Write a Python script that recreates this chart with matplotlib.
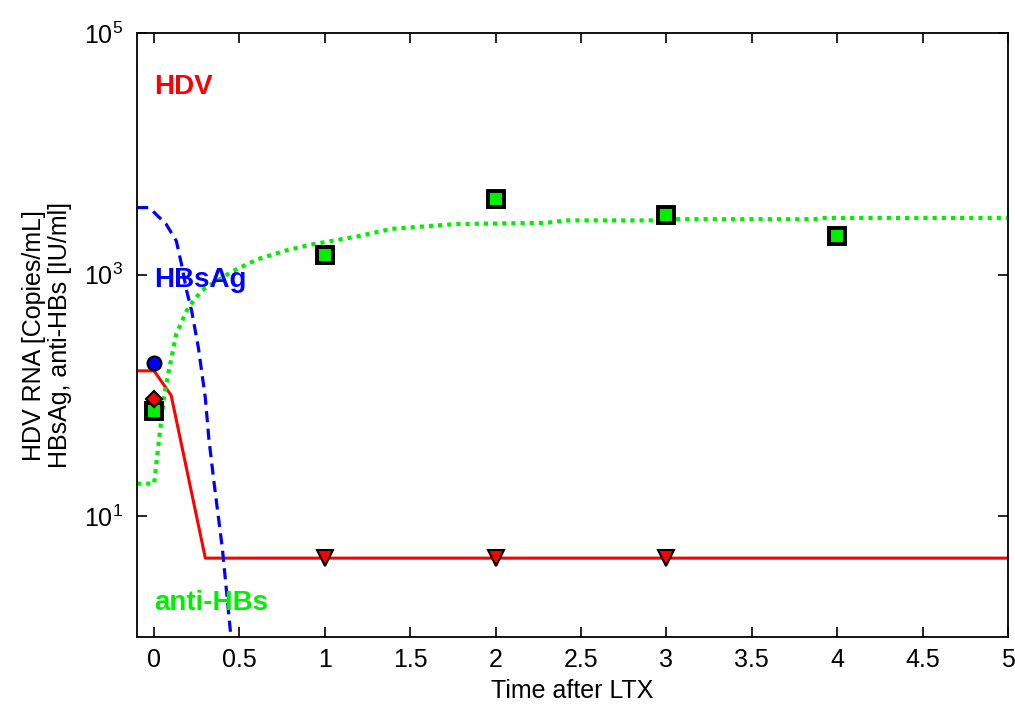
import matplotlib.pyplot as plt
import numpy as np

plt.rcParams['font.family'] = ['Liberation Sans', 'DejaVu Sans']
plt.rcParams['mathtext.fontset'] = 'custom'
plt.rcParams['mathtext.rm'] = 'Liberation Sans'

# model curves (time, value)
hdv_t = [-0.1, 0.0, 0.1, 0.3, 5.0]
hdv_v = [160, 160, 100, 4.5, 4.5]

hbsag_t = [-0.1, -0.03, -0.01, 0.07, 0.13, 0.16, 0.19, 0.22, 0.26, 0.30, 0.32, 0.35, 0.40, 0.45]
hbsag_log = [3.556, 3.556, 3.53, 3.42, 3.28, 3.09, 2.87, 2.70, 2.39, 1.98, 1.65, 1.29, 0.73, 0.0]

anti_t = [-0.1, 0.0, 0.03, 0.06, 0.09, 0.13, 0.2, 0.28, 0.46, 0.61, 0.77, 0.92, 1.2,
          1.39, 1.77, 2.3, 2.41, 2.97, 3.0, 3.87, 3.9, 5.0]
anti_log = [1.27, 1.27, 1.65, 2.01, 2.23, 2.51, 2.73, 2.87, 3.03, 3.13, 3.20, 3.25, 3.32,
            3.38, 3.42, 3.43, 3.45, 3.45, 3.46, 3.46, 3.47, 3.47]

# measurements
hdv_pt_t = [0]
hdv_pt_v = [94]
hdv_bd_t = [1, 2, 3]
hdv_bd_v = [4.5, 4.5, 4.5]
hbsag_pt_t = [0]
hbsag_pt_v = [186]
anti_pt_t = [0, 1, 2, 3, 4]
anti_pt_v = [74, 1450, 4200, 3100, 2100]

xtick_labels = ['0', '0.5', '1', '1.5', '2', '2.5', '3', '3.5', '4', '4.5', '5']
ytick_labels = [r'$\mathregular{10^{1}}$', r'$\mathregular{10^{3}}$', r'$\mathregular{10^{5}}$']

fig = plt.figure(figsize=(10.15, 7.07), dpi=100)
ax = fig.add_axes([0.135, 0.099, 0.858, 0.854])

ax.plot(hdv_t, hdv_v, color='red', lw=2.2, zorder=2)
ax.plot(hbsag_t, 10 ** np.array(hbsag_log), color='blue', lw=2.3, ls=(0, (3.5, 2)), zorder=2)
ax.plot(anti_t, 10 ** np.array(anti_log), color='#00ee00', lw=3, ls=(0, (1, 1.2)), zorder=2)

ax.plot(anti_pt_t, anti_pt_v, 's', ms=12, mfc='#00ee00', mec='black', mew=2.8, zorder=4)
ax.plot(hdv_pt_t, hdv_pt_v, 'D', ms=8, mfc='red', mec='black', mew=1.5, zorder=5)
ax.plot(hbsag_pt_t, hbsag_pt_v, 'o', ms=10, mfc='blue', mec='black', mew=1.5, zorder=5)
ax.plot(hdv_bd_t, hdv_bd_v, 'v', ms=12, mfc='red', mec='black', mew=1.5, zorder=4)

ax.set_yscale('log')
ax.set_xlim(-0.1, 5)
ax.set_ylim(1, 1e5)
ax.set_yticks([1e1, 1e3, 1e5])
ax.set_yticklabels(ytick_labels)
ax.yaxis.set_minor_locator(plt.NullLocator())
ax.set_xticks(np.arange(0, 5.01, 0.5))
ax.set_xticklabels(xtick_labels)
ax.tick_params(direction='in', top=True, right=True, length=7, width=1.2, labelsize=18,
               pad=8)
ax.tick_params(axis='y', pad=10)
for s in ax.spines.values():
    s.set_linewidth(1.3)

ax.set_xlabel('Time after LTX', fontsize=18, labelpad=5)
ax.set_ylabel('HDV RNA [Copies/mL]\nHBsAg, anti-HBs [IU/ml]', fontsize=18, linespacing=1.1)
ax.yaxis.set_label_coords(-0.075, 0.5)

ax.text(0.0, 3.6e4, 'HDV', color='red', fontsize=20, fontweight='bold', va='center')
ax.text(0.0, 900, 'HBsAg', color='blue', fontsize=20, fontweight='bold', va='center')
ax.text(0.0, 1.9, 'anti-HBs', color='#00ee00', fontsize=20, fontweight='bold', va='center')

fig.savefig('out.png', dpi=100)
